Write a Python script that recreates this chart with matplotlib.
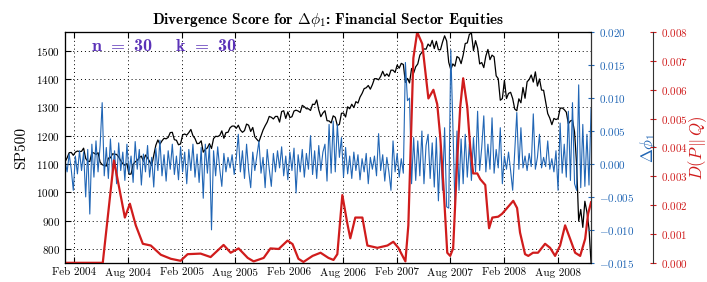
import numpy as np
import pandas as pd
import matplotlib
matplotlib.use("Agg")
import matplotlib.pyplot as plt
import matplotlib.dates as mdates

plt.rcParams['font.family'] = ['cmr10', 'DejaVu Serif']
plt.rcParams['mathtext.fontset'] = 'cm'
plt.rcParams['axes.formatter.use_mathtext'] = True
plt.rcParams['axes.unicode_minus'] = True

# weekly closes (Fridays), 2004-01-02 .. 2008-11-21
sp500 = [
    # 2004
    1108, 1122, 1140, 1141, 1131, 1142, 1146, 1144, 1145, 1156, 1120, 1110, 1109,
    1141, 1139, 1134, 1140, 1107, 1098, 1095, 1093, 1121, 1122, 1136, 1135, 1134,
    1125, 1112, 1101, 1096, 1102, 1064, 1065, 1099, 1108, 1113, 1123, 1128, 1110,
    1132, 1122, 1109, 1095, 1130, 1166, 1185, 1170, 1182, 1191, 1189, 1194, 1211, 1212,
    # 2005
    1186, 1184, 1168, 1171, 1203, 1206, 1202, 1211, 1222, 1200, 1190, 1172, 1173,
    1182, 1142, 1152, 1157, 1172, 1155, 1190, 1198, 1197, 1201, 1217, 1191, 1211,
    1212, 1228, 1234, 1234, 1226, 1237, 1220, 1212, 1218, 1241, 1237, 1215, 1229,
    1196, 1187, 1179, 1199, 1220, 1235, 1248, 1268, 1265, 1259, 1268, 1268, 1248,
    # 2006
    1285, 1288, 1261, 1284, 1264, 1267, 1287, 1290, 1287, 1282, 1307, 1302, 1295,
    1295, 1289, 1311, 1310, 1326, 1291, 1267, 1280, 1288, 1253, 1252, 1245, 1270,
    1265, 1236, 1240, 1279, 1280, 1266, 1302, 1295, 1311, 1299, 1320, 1315, 1336,
    1349, 1366, 1369, 1377, 1364, 1380, 1401, 1401, 1397, 1409, 1427, 1410, 1418,
    # 2007
    1409, 1431, 1431, 1423, 1449, 1438, 1455, 1451, 1388, 1402, 1386, 1437, 1421,
    1443, 1453, 1484, 1494, 1506, 1505, 1523, 1515, 1536, 1507, 1533, 1503, 1503,
    1530, 1552, 1534, 1459, 1433, 1453, 1445, 1479, 1474, 1454, 1484, 1525, 1527,
    1557, 1562, 1500, 1535, 1509, 1453, 1458, 1440, 1481, 1504, 1468, 1484, 1478,
    # 2008
    1411, 1401, 1325, 1331, 1395, 1331, 1349, 1353, 1331, 1294, 1288, 1330, 1316,
    1370, 1332, 1390, 1398, 1414, 1389, 1425, 1375, 1400, 1361, 1360, 1318, 1278,
    1262, 1239, 1261, 1257, 1260, 1296, 1298, 1292, 1283, 1242, 1252, 1255, 1213,
    1099, 899, 940, 877, 969, 931, 873, 752,
]

dphi = [
    0.0005, -0.0012, 0.0015, -0.0008, -0.0040, 0.0012, -0.0015, 0.0020, -0.0010, 0.0018,
    -0.0050, 0.0022, -0.0076, 0.0030, -0.0020, 0.0035, -0.0012, 0.0028, 0.0093, -0.0018,
    0.0025, -0.0022, 0.0038, -0.0015, 0.0020, -0.0030, 0.0032, -0.0010, 0.0018, -0.0025,
    0.0030, -0.0014, 0.0012, -0.0028, 0.0034, -0.0008, 0.0022, -0.0032, 0.0015, -0.0012,
    0.0028, -0.0020, 0.0010, -0.0035, 0.0024, -0.0010, 0.0036, -0.0018, 0.0014, -0.0026,
    0.0020, -0.0008, 0.0030, -0.0016, 0.0012, -0.0024, 0.0026, -0.0012, 0.0018, -0.0030,
    0.0022, -0.0010, 0.0030, -0.0020, 0.0015, -0.0028, 0.0025, -0.0052, 0.0030, -0.0014,
    0.0028, -0.0100, 0.0020, -0.0018, 0.0026, -0.0008, -0.0034, 0.0016, -0.0012, 0.0010,
    -0.0006, 0.0014, -0.0016, 0.0008, 0.0045, -0.0012, 0.0020, -0.0022, 0.0030, -0.0010,
    -0.0036, 0.0018, -0.0010, 0.0012, 0.0035, -0.0014, 0.0010, -0.0036, 0.0022, -0.0008,
    -0.0034, 0.0016, -0.0012, 0.0020, -0.0006, 0.0026, -0.0018, 0.0012, -0.0024, 0.0018,
    -0.0010, 0.0024, -0.0044, 0.0014, -0.0012, 0.0022, -0.0020, 0.0016, -0.0008, 0.0043,
    -0.0016, 0.0020, -0.0022, 0.0028, -0.0010, 0.0018, 0.0030, -0.0026, 0.0060, -0.0014,
    0.0065, -0.0012, 0.0060, 0.0010, 0.0040, -0.0020, 0.0025, -0.0015, 0.0012, -0.0022,
    0.0018, -0.0010, 0.0014, -0.0024, 0.0008, -0.0012, 0.0016, -0.0030, 0.0010, -0.0008,
    0.0012, -0.0018, 0.0046, -0.0010, 0.0014, -0.0026, 0.0010, -0.0012, -0.0040, 0.0035,
    -0.0012, 0.0016, -0.0020, 0.0008, -0.0014, 0.0154, 0.0096, 0.0100, -0.0030, 0.0040,
    -0.0025, 0.0035, -0.0018, 0.0050, -0.0030, 0.0028, 0.0045, -0.0022, 0.0032, -0.0035,
    0.0040, -0.0056, 0.0030, -0.0040, 0.0055, -0.0065, -0.0067, 0.0173, 0.0060, -0.0062,
    0.0050, -0.0040, 0.0038, -0.0030, 0.0045, -0.0020, 0.0030, -0.0025, 0.0040, -0.0012,
    0.0080, -0.0010, 0.0025, 0.0073, -0.0012, 0.0030, -0.0008, 0.0070, -0.0014, 0.0022,
    -0.0006, 0.0055, -0.0030, 0.0012, -0.0008, 0.0018, -0.0010, -0.0040, 0.0020, 0.0078,
    -0.0008, 0.0055, -0.0006, 0.0012, -0.0010, 0.0016, -0.0004, 0.0076, -0.0008, 0.0010,
    0.0045, -0.0006, 0.0010, -0.0004, 0.0035, -0.0008, 0.0008, -0.0012, 0.0020, -0.0040,
    0.0062, -0.0014, 0.0030, -0.0020, 0.0080, -0.0025, 0.0093, -0.0030, -0.0040, 0.0120,
    -0.0036, 0.0060, -0.0034, 0.0045, -0.0032, 0.0084,
]

# divergence score, read at irregular dates
div_dates = [
    '2004-01-02', '2004-05-09', '2004-06-16', '2004-07-23', '2004-08-09', '2004-08-29',
    '2004-09-22', '2004-10-19', '2004-11-22', '2004-12-26', '2005-01-28', '2005-02-21',
    '2005-04-06', '2005-05-10', '2005-06-23', '2005-07-17', '2005-08-13', '2005-09-13',
    '2005-10-03', '2005-11-06', '2005-11-29', '2005-12-27', '2006-01-26', '2006-02-12',
    '2006-03-04', '2006-03-21', '2006-04-21', '2006-05-18', '2006-06-14', '2006-07-01',
    '2006-07-14', '2006-07-31', '2006-08-17', '2006-08-27', '2006-09-13', '2006-10-07',
    '2006-10-24', '2006-11-27', '2006-12-31', '2007-01-20', '2007-02-06', '2007-03-02',
    '2007-03-12', '2007-03-29', '2007-04-11', '2007-04-28', '2007-05-19', '2007-06-05',
    '2007-06-18', '2007-06-28', '2007-07-09', '2007-07-22', '2007-08-01', '2007-08-11',
    '2007-08-25', '2007-09-04', '2007-09-14', '2007-09-28', '2007-10-08', '2007-10-18',
    '2007-11-01', '2007-11-11', '2007-11-28', '2007-12-08', '2007-12-11', '2007-12-22',
    '2008-01-11', '2008-01-24', '2008-02-10', '2008-03-02', '2008-03-15', '2008-03-25',
    '2008-04-11', '2008-04-22', '2008-05-08', '2008-05-25', '2008-06-18', '2008-07-05',
    '2008-07-22', '2008-08-08', '2008-08-25', '2008-09-11', '2008-09-28', '2008-10-15',
    '2008-11-01', '2008-11-11', '2008-11-21',
]
div_score = [
    0.0, 0.0, 0.00355, 0.00157, 0.00205, 0.0013,
    0.00066, 0.0006, 0.00028, 0.00014, 0.00007, 0.0003,
    0.00032, 0.0002, 0.00062, 0.00035, 0.0005, 0.00017,
    0.00005, 0.00017, 0.0005, 0.00048, 0.00077, 0.00065,
    0.00014, 0.00003, 0.00024, 0.00035, 0.00017, 0.0001,
    0.0003, 0.00235, 0.00136, 0.00085, 0.00157, 0.00157,
    0.0006, 0.00052, 0.0006, 0.00073, 0.00052, 0.00005,
    0.0013, 0.0071, 0.0080, 0.0076, 0.0057, 0.0060,
    0.0055, 0.0044, 0.0027, 0.00035, 0.00024, 0.0005,
    0.0036, 0.0054, 0.0064, 0.0054, 0.0040, 0.0031,
    0.0031, 0.0029, 0.0027, 0.0015, 0.0012, 0.00157,
    0.0016, 0.0017, 0.0019, 0.00215, 0.0019, 0.00105,
    0.0003, 0.00024, 0.00035, 0.00035, 0.00066, 0.00052,
    0.00024, 0.0006, 0.0013, 0.00083, 0.00035, 0.00024,
    0.00083, 0.0017, 0.0021,
]

xtick_dates = ['2004-02-01', '2004-08-01', '2005-02-01', '2005-08-01', '2006-02-01',
               '2006-08-01', '2007-02-01', '2007-08-01', '2008-02-01', '2008-08-01']

weeks = pd.date_range('2004-01-02', periods=len(sp500), freq='7D')
div_x = pd.to_datetime(div_dates)

blue = '#2166b5'
red = '#d01c1c'

fig = plt.figure(figsize=(7.07, 2.82), dpi=100)
ax = fig.add_axes([0.092, 0.068, 0.744, 0.818])

ax.plot(weeks, sp500, color='black', lw=0.9)
ax.set_ylim(752, 1565)
ax.set_yticks(range(800, 1501, 100))
ax.set_xlim(weeks[0], weeks[-1])
ax.set_xticks(pd.to_datetime(xtick_dates))
ax.xaxis.set_major_formatter(mdates.DateFormatter('%b %Y'))
ax.set_ylabel('SP500', fontsize=11, labelpad=6)
ax.tick_params(direction='in', labelsize=8, top=True, length=4)
ax.grid(True, linestyle=(0, (1, 3)), color='black', lw=0.7)
ax.set_title(r'Divergence Score for $\mathbf{\Delta}\phi_1$: Financial Sector Equities',
             fontfamily='cmb10', fontsize=11, pad=6)
ax.text(0.05, 0.975, r'n $=$ 30    k $=$ 30', transform=ax.transAxes,
        fontfamily='cmb10', fontsize=13, color='#5b32b8', va='top', ha='left')

ax2 = ax.twinx()
ax2.plot(weeks, dphi, color=blue, lw=0.8)
ax2.set_ylim(-0.015, 0.020)
ax2.set_yticks(np.arange(-0.015, 0.0201, 0.005))
ax2.yaxis.set_major_formatter(matplotlib.ticker.FormatStrFormatter('$%.3f$'))
ax2.tick_params(axis='y', colors=blue, labelsize=8, direction='inout', length=5)
ax2.set_ylabel(r'$\Delta\phi_1$', color=blue, fontsize=12, labelpad=2)
ax2.spines['right'].set_color('#333333')

ax3 = ax.twinx()
ax3.plot(div_x, div_score, color=red, lw=1.6)
ax3.set_ylim(0, 0.008)
ax3.set_yticks(np.arange(0, 0.00801, 0.001))
ax3.yaxis.set_major_formatter(matplotlib.ticker.FormatStrFormatter('$%.3f$'))
ax3.spines['right'].set_position(('axes', 1.118))
ax3.spines['right'].set_color('#333333')
ax3.tick_params(axis='y', colors=red, labelsize=8, direction='inout', length=5)
ax3.set_ylabel(r'$D(P\,\|\,Q)$', color=red, fontsize=12, labelpad=-2)

fig.savefig('out.png', dpi=100)
